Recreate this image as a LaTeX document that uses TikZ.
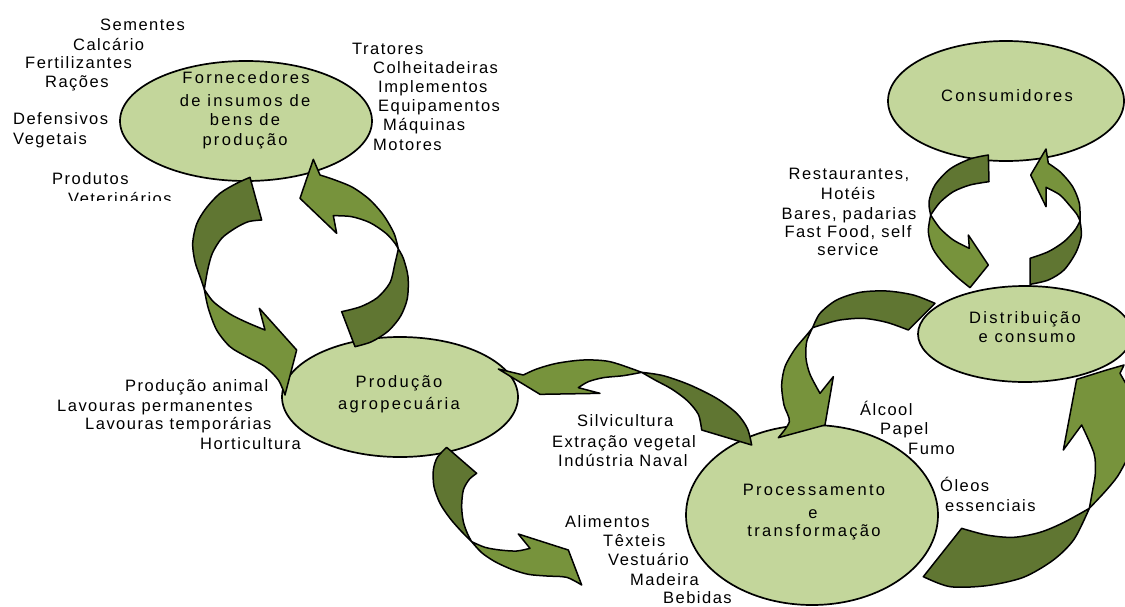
\documentclass[tikz,border=0pt]{standalone}
\usepackage{fontspec}
\setmainfont{Liberation Sans}[LetterSpace=9]
\usetikzlibrary{shapes.geometric}
\definecolor{ellfill}{HTML}{C3D69B}
\definecolor{arrlight}{HTML}{77933C}
\definecolor{arrdark}{HTML}{607632}
\tikzset{
  ell/.style={ellipse, draw=black, line width=1.7pt, fill=ellfill, inner sep=0pt},
  lt/.style={fill=arrlight, draw=black, line width=1.5pt, line join=round},
  dk/.style={fill=arrdark, draw=black, line width=1.5pt, line join=round},
  lbl/.style={anchor=base west, inner sep=0pt, font=\fontsize{16.5}{19}\selectfont},
  ctr/.style={anchor=base, inner sep=0pt, font=\fontsize{16.5}{19}\selectfont},
  etx/.style={anchor=base, inner sep=0pt, font=\fontsize{16.5}{19}\selectfont\addfontfeature{LetterSpace=14}},
}
\begin{document}
\begin{tikzpicture}[x=1pt,y=-1pt]
\useasboundingbox (0,0) rectangle (1125,606);
\clip (0,0) rectangle (1125,606);
% ellipses
\node[ell, minimum width=252pt, minimum height=120pt] (forn) at (246,121) {};
\node[ell, minimum width=236pt, minimum height=120pt] (cons) at (1006,101) {};
\node[ell, minimum width=236pt, minimum height=120pt] (prod) at (400,397) {};
\node[ell, minimum width=252pt, minimum height=180pt] (proc) at (812,515) {};
\node[ell, minimum width=214pt, minimum height=96pt] (dist) at (1025,334) {};
% arrows: Fornecedores <-> Producao
\begin{scope}[shift={(170,150)},scale=1/3]
\filldraw[dk] (240,82) -- (275,210) -- plot[smooth] coordinates {(275,210) (235,215) (195,235) (155,265) (127,310) (113,360) (103,418)}
  -- plot[smooth] coordinates {(103,418) (92,385) (75,335) (68,280) (80,222) (108,175) (150,130) (200,100) (240,82)} -- cycle;
\filldraw[lt] (103,418) -- plot[smooth] coordinates {(103,418) (130,455) (180,492) (230,517) (285,540)} -- (268,475) -- (380,600) -- (345,735)
  -- plot[smooth] coordinates {(345,735) (325,690) (285,650) (230,620) (180,590) (140,540) (115,475) (103,418)} -- cycle;
\filldraw[dk] (515,485) -- (555,590) -- plot[smooth] coordinates {(555,590) (605,575) (655,543) (692,498) (712,445) (714,380) (700,325) (685,297)}
  -- plot[smooth] coordinates {(685,297) (675,340) (660,398) (622,443) (572,470) (515,485)} -- cycle;
\filldraw[lt] (685,297) -- plot[smooth] coordinates {(685,297) (672,250) (640,195) (598,148) (548,112) (495,90) (450,75)} -- (430,28) -- (390,145) -- (500,250) -- (490,197)
  -- plot[smooth] coordinates {(490,197) (545,200) (600,218) (648,250) (675,280) (685,297)} -- cycle;
\end{scope}
% arrow Producao -> Alimentos
\begin{scope}[shift={(430,440)},scale=1/3]
\filldraw[dk] (50,22) -- (140,100) -- plot[smooth] coordinates {(140,100) (118,118) (100,150) (95,200) (100,245) (112,280) (125,305)}
  -- plot[smooth] coordinates {(125,305) (95,275) (60,235) (30,190) (12,140) (10,90) (22,52) (50,22)} -- cycle;
\filldraw[lt] (125,305) -- plot[smooth] coordinates {(125,305) (165,322) (210,330) (260,333) (300,325)} -- (265,282) -- (415,330) -- (455,435)
  -- plot[smooth] coordinates {(455,435) (410,412) (350,408) (295,403) (245,388) (195,365) (155,338) (125,305)} -- cycle;
\end{scope}
% arrow Processamento -> Producao (top)
\begin{scope}[shift={(490,355)},scale=1/3]
\filldraw[dk] (455,52) -- plot[smooth] coordinates {(455,52) (520,62) (600,90) (680,130) (740,175) (772,220) (785,270)} -- (635,225)
  -- plot[smooth] coordinates {(635,225) (625,178) (592,137) (545,102) (495,75) (455,52)} -- cycle;
\filldraw[lt] (25,42) -- (100,60) -- plot[smooth] coordinates {(100,60) (140,42) (200,25) (280,15) (360,20) (455,52)}
  -- plot[smooth] coordinates {(455,52) (400,62) (340,68) (295,80) (265,98)} -- (330,115) -- (150,118) -- cycle;
\end{scope}
% arrows Consumidores <-> Distribuicao
\begin{scope}[shift={(920,145)},scale=1/3]
\filldraw[dk] (205,30) -- (207,110) -- plot[smooth] coordinates {(207,110) (150,120) (100,140) (60,172) (32,210)}
  -- plot[smooth] coordinates {(32,210) (27,170) (45,120) (90,72) (150,42) (205,30)} -- cycle;
\filldraw[lt] (32,210) -- plot[smooth] coordinates {(32,210) (60,250) (100,285) (148,310)} -- (145,270) -- (205,360) -- (150,428)
  -- plot[smooth] coordinates {(150,428) (110,395) (70,355) (38,310) (25,260) (32,210)} -- cycle;
\filldraw[dk] (330,340) -- (330,418) -- plot[smooth] coordinates {(330,418) (385,405) (432,375) (468,322) (484,272) (480,228)}
  -- plot[smooth] coordinates {(480,228) (465,255) (432,290) (385,320) (330,340)} -- cycle;
\filldraw[lt] (480,228) -- plot[smooth] coordinates {(480,228) (478,175) (458,125) (422,82) (385,55)} -- (378,12) -- (332,90) -- (378,185) -- (378,127)
  -- plot[smooth] coordinates {(378,127) (420,150) (452,185) (472,210) (480,228)} -- cycle;
\end{scope}
% arrow Distribuicao -> Processamento
\begin{scope}[shift={(770,285)},scale=1/3]
\filldraw[dk] (495,55) -- (415,135) -- plot[smooth] coordinates {(415,135) (350,112) (280,100) (210,105) (160,118) (128,128)}
  -- plot[smooth] coordinates {(128,128) (150,85) (200,45) (270,22) (350,18) (430,30) (495,55)} -- cycle;
\filldraw[lt] (128,128) -- plot[smooth] coordinates {(128,128) (110,170) (108,220) (120,268) (150,325)} -- (190,275) -- (165,420) -- (25,458)
  -- plot[smooth] coordinates {(25,458) (58,410) (42,360) (35,300) (45,245) (75,192) (110,150) (128,128)} -- cycle;
\end{scope}
% arrow Processamento -> Distribuicao (right)
\begin{scope}[shift={(920,340)},scale=1/3]
\filldraw[dk] (10,710) -- (125,565) -- plot[smooth] coordinates {(125,565) (200,585) (280,592) (360,577) (430,548) (508,505)}
  -- plot[smooth] coordinates {(508,505) (462,598) (400,660) (310,712) (200,737) (90,740) (10,710)} -- cycle;
\filldraw[lt] (508,505) -- plot[smooth] coordinates {(508,505) (518,450) (526,400) (522,340) (485,255)} -- (430,330) -- (470,118) -- (560,90) -- (612,75) -- (600,100) -- (620,135) -- (620,360)
  -- plot[smooth] coordinates {(620,360) (592,410) (555,455) (508,505)} -- cycle;
\end{scope}
% ellipse texts
\node[etx] (f1) at (246,83.5) {Fornecedores};
\node[etx] (f2) at (245,106.5) {de insumos de};
\node[etx] (f3) at (245,125.5) {bens de};
\node[etx] (f4) at (245,145.5) {produção};
\node[etx] (c1) at (1007,101.5) {Consumidores};
\node[etx] (p1) at (399,387.5) {Produção};
\node[etx] (p2) at (399,409.5) {agropecuária};
\node[etx] (r1) at (814,495.5) {Processamento};
\node[etx] (r2) at (813,518.5) {e};
\node[etx] (r3) at (814,536.5) {transformação};
\node[etx] (d1) at (1025,323.5) {Distribuição};
\node[etx] (d2) at (1027,342.5) {e consumo};
% labels top-left
\node[lbl] (a1) at (100,30) {Sementes};
\node[lbl] (a2) at (73,50) {Calcário};
\node[lbl] (a3) at (25,68) {Fertilizantes};
\node[lbl] (a4) at (45,87) {Rações};
\node[lbl] (a5) at (13,124) {Defensivos};
\node[lbl] (a6) at (13,144) {Vegetais};
\node[lbl] (a7) at (52,184) {Produtos};
\begin{scope}
\clip (0,0) rectangle (300,200);
\node[lbl] (a8) at (68,204) {Veterinários};
\end{scope}
% labels right of Fornecedores
\node[lbl] (b1) at (352,54.5) {Tratores};
\node[lbl] (b2) at (373,73.5) {Colheitadeiras};
\node[lbl] (b3) at (378,92.5) {Implementos};
\node[lbl] (b4) at (378,111.5) {Equipamentos};
\node[lbl] (b5) at (383,130.5) {Máquinas};
\node[lbl] (b6) at (373,150.5) {Motores};
% labels left of Producao
\node[lbl] (e1) at (125,391.5) {Produção animal};
\node[lbl] (e2) at (57,411.5) {Lavouras permanentes};
\node[lbl] (e3) at (85,429.5) {Lavouras temporárias};
\node[lbl] (e4) at (200,449.5) {Horticultura};
% middle labels
\node[lbl] (g1) at (577,426.5) {Silvicultura};
\node[lbl] (g2) at (552,447.5) {Extração vegetal};
\node[lbl] (g3) at (558,466.5) {Indústria Naval};
\node[lbl] (h1) at (565,527.5) {Alimentos};
\node[lbl] (h2) at (603,546.5) {Têxteis};
\node[lbl] (h3) at (608,565.5) {Vestuário};
\node[lbl] (h4) at (630,585.5) {Madeira};
\node[lbl] (h5) at (663,603.5) {Bebidas};
% consumer labels
\node[ctr] (k1) at (849,179) {Restaurantes,};
\node[ctr] (k2) at (848,199) {Hotéis};
\node[ctr] (k3) at (849,219) {Bares, padarias};
\node[ctr] (k4) at (848,237.5) {Fast Food, self};
\node[ctr] (k5) at (848,255.5) {service};
% labels near Processamento
\node[lbl] (m1) at (860,415.5) {Álcool};
\node[lbl] (m2) at (880,434.5) {Papel};
\node[lbl] (m3) at (908,454.5) {Fumo};
\node[lbl] (m4) at (940,491.5) {Óleos};
\node[lbl] (m5) at (945,511.5) {essenciais};
\end{tikzpicture}
\end{document}
